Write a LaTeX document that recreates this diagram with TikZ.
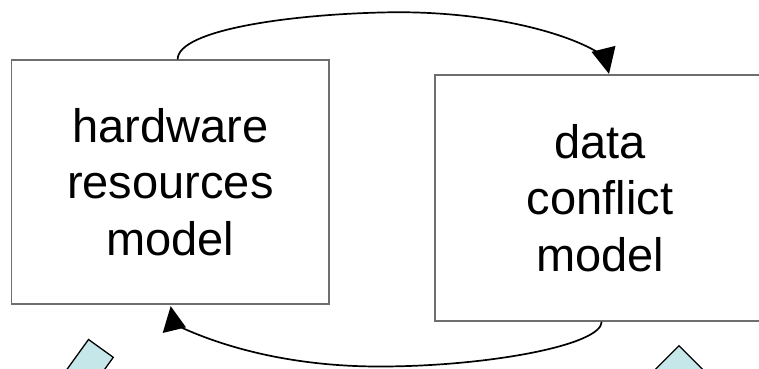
\documentclass[tikz,border=0pt]{standalone}
\usepackage{fontspec}
\setmainfont{Liberation Sans}
\usetikzlibrary{calc}
\definecolor{boxline}{RGB}{110,110,110}
\definecolor{shapefill}{RGB}{198,231,233}
\begin{document}
\begin{tikzpicture}[x=1bp,y=-1bp,
  modelbox/.style={draw=boxline, line width=1.3bp, fill=white, inner sep=0pt,
    align=center, font=\fontsize{47bp}{56.5bp}\selectfont},
  flow/.style={draw=black, line width=1.7bp},
  head/.style={fill=black},
  marker/.style={draw=black, line width=1.3bp, fill=shapefill}]
\useasboundingbox (0,0) rectangle (759,368);
\clip (0,0) rectangle (759,368);

% the two model boxes
\node[modelbox, minimum width=317.3bp, minimum height=244bp] (hw) at (170.35,182)
  {hardware\\resources\\model};
\node[modelbox, minimum width=330bp, minimum height=246bp] (dc) at (600,198)
  {data\\conflict\\model};

% upper connector: hardware -> data conflict
\coordinate (ha) at ($(hw.north)+(7.3,0)$);
\coordinate (ta) at ($(dc.north)+(9,-0.5)$);
\draw[flow] (ha) .. controls (177.7,30) and (290,14) .. (390,12.3)
  .. controls (480,11) and (560,30) .. ($(ta)+(-12,-22)$);
\fill[head] (ta) -- ++(-17.5,-22) -- ++(24,-6) -- cycle;

% lower connector: data conflict -> hardware
\coordinate (hb) at ($(dc.south)+(1.7,0)$);
\coordinate (tb) at ($(hw.south)+(0.35,1.5)$);
\draw[flow] (hb) .. controls (601.7,345) and (490,366) .. (383,366.5)
  .. controls (290,367) and (222,346) .. ($(tb)+(11,21.5)$);
\fill[head] (tb) -- ++(-8,26.8) -- ++(23.3,-5.6) -- cycle;

% markers at the lower edge
\draw[marker] (88.5,339.5) -- (113.3,357.3) -- (78.2,406) -- (53.4,388.2) -- cycle;
\draw[marker] (679,345.7) -- (719,385.7) -- (679,425.7) -- (639,385.7) -- cycle;
\end{tikzpicture}
\end{document}
